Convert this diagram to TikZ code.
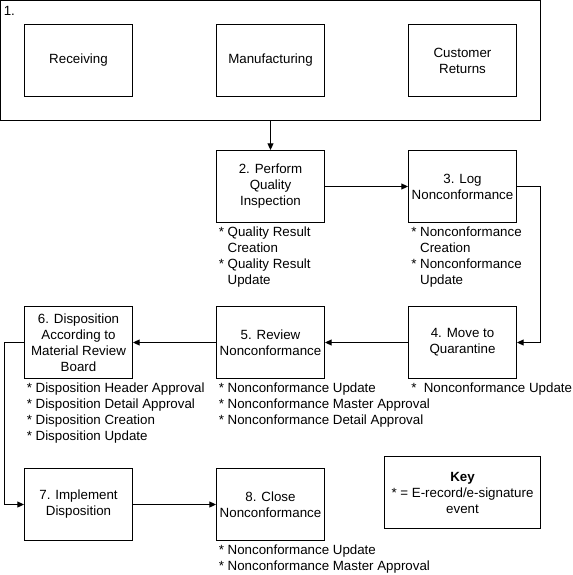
\documentclass[tikz,border=0pt]{standalone}
\usepackage{fontspec}
\setmainfont{Liberation Sans}
\usetikzlibrary{arrows.meta}
\begin{document}
\begin{tikzpicture}[x=0.75pt,y=-0.75pt,
  font=\fontsize{10}{12}\selectfont,
  procbox/.style={draw=black,line width=0.75pt,minimum width=81pt,minimum height=54pt,inner sep=0pt,align=center},
  note/.style={anchor=north west,inner sep=0pt,align=left},
  conn/.style={draw=black,line width=0.75pt,-{Triangle[length=5pt,width=4.5pt]}}]
\useasboundingbox (0,0) rectangle (572,575);
% group 1
\node[draw=black,line width=0.75pt,minimum width=405pt,minimum height=90pt,inner sep=0pt] (outer) at (270.5,60.5) {};
\node[anchor=west,inner sep=0pt] (one) at (3.5,11) {1.};
\node[procbox] (rec) at (78.5,60.5) {Receiving};
\node[procbox] (man) at (270.5,60.5) {Manufacturing};
\node[procbox] (cus) at (462.5,60.5) {Customer\\Returns};
% steps
\node[procbox] (b2) at (270.5,186.5) {2. Perform\\Quality\\Inspection};
\node[procbox] (b3) at (462.5,186.5) {3. Log\\Nonconformance};
\node[procbox] (b4) at (462.5,342.5) {4. Move to\\Quarantine};
\node[procbox] (b5) at (270.5,342.5) {5. Review\\Nonconformance};
\node[procbox] (b6) at (78.5,342.5) {6. Disposition\\According to\\Material Review\\Board};
\node[procbox] (b7) at (78.5,504.5) {7. Implement\\Disposition};
\node[procbox] (b8) at (270.5,504.5) {8. Close\\Nonconformance};
\node[procbox,minimum width=117pt] (key) at (462.5,492.5) {\textbf{Key}\\*\ =\ E-record/e-signature\\event};
% notes
\node[note] (n2) at (218.5,227) {*\ Quality Result\\\hphantom{*\ }Creation\\*\ Quality Result\\\hphantom{*\ }Update};
\node[note] (n3) at (411,227) {*\ Nonconformance\\\hphantom{*\ }Creation\\*\ Nonconformance\\\hphantom{*\ }Update};
\node[note] (n4) at (411,383) {*\ \ Nonconformance Update};
\node[note] (n5) at (218.5,383) {*\ Nonconformance Update\\*\ Nonconformance Master Approval\\*\ Nonconformance Detail Approval};
\node[note] (n6) at (26.5,383) {*\ Disposition Header Approval\\*\ Disposition Detail Approval\\*\ Disposition Creation\\*\ Disposition Update};
\node[note] (n8) at (218.5,545) {*\ Nonconformance Update\\*\ Nonconformance Master Approval};
% connectors
\coordinate (bendA) at (540.5,186.5);
\coordinate (bendB) at (4.5,342.5);
\draw[conn] (outer.south) -- (b2.north);
\draw[conn] (b2.east) -- (b3.west);
\draw[conn] (b3.east) -- (bendA) |- (b4.east);
\draw[conn] (b4.west) -- (b5.east);
\draw[conn] (b5.west) -- (b6.east);
\draw[conn] (b6.west) -- (bendB) |- (b7.west);
\draw[conn] (b7.east) -- (b8.west);
\end{tikzpicture}
\end{document}
